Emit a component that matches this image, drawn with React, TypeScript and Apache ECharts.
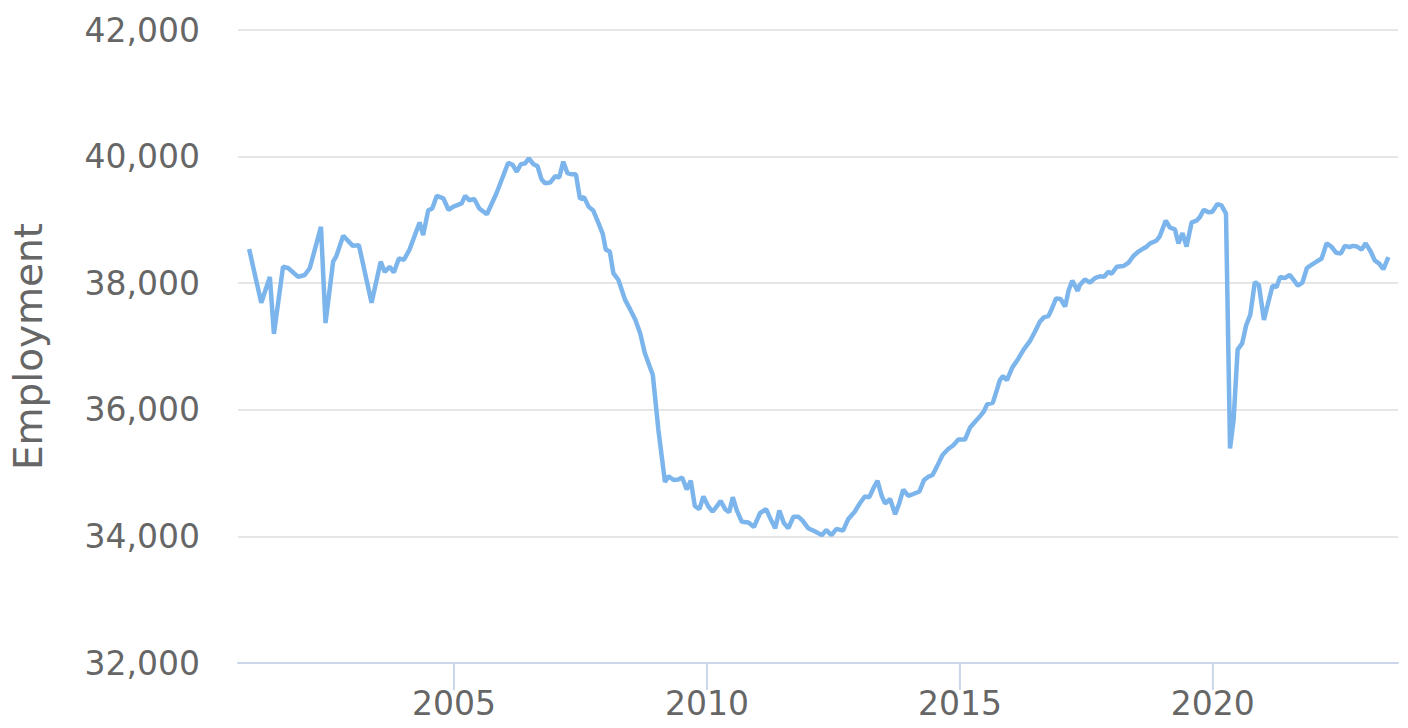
import React, { useEffect, useRef } from "react";
import * as echarts from "echarts";

// decimal year positions
const years: number[] = [
  2000.95, 2001.19, 2001.36, 2001.44, 2001.62, 2001.72, 2001.92, 2002.05, 2002.15, 2002.37,
  2002.46, 2002.61, 2002.67, 2002.81, 2003.0, 2003.12, 2003.37, 2003.55, 2003.63, 2003.73,
  2003.81, 2003.91, 2004.01, 2004.12, 2004.32, 2004.39, 2004.49, 2004.57, 2004.66, 2004.79,
  2004.89, 2004.99, 2005.15, 2005.22, 2005.3, 2005.4, 2005.5, 2005.65, 2005.84, 2006.07,
  2006.16, 2006.24, 2006.32, 2006.4, 2006.48, 2006.57, 2006.65, 2006.73, 2006.8, 2006.9,
  2007.0, 2007.08, 2007.16, 2007.24, 2007.33, 2007.41, 2007.49, 2007.57, 2007.66, 2007.75,
  2007.85, 2007.94, 2008.0, 2008.08, 2008.15, 2008.25, 2008.38, 2008.48, 2008.58, 2008.68,
  2008.77, 2008.87, 2008.93, 2009.04, 2009.17, 2009.24, 2009.34, 2009.43, 2009.51, 2009.6,
  2009.68, 2009.76, 2009.85, 2009.93, 2010.03, 2010.11, 2010.19, 2010.27, 2010.36, 2010.44,
  2010.51, 2010.59, 2010.69, 2010.82, 2010.93, 2011.05, 2011.17, 2011.26, 2011.35, 2011.43,
  2011.52, 2011.61, 2011.71, 2011.81, 2011.89, 2012.0, 2012.13, 2012.27, 2012.36, 2012.46,
  2012.56, 2012.69, 2012.79, 2012.92, 2013.02, 2013.12, 2013.21, 2013.29, 2013.37, 2013.45,
  2013.52, 2013.62, 2013.72, 2013.8, 2013.88, 2013.98, 2014.08, 2014.2, 2014.29, 2014.37,
  2014.46, 2014.55, 2014.66, 2014.77, 2014.87, 2014.97, 2015.1, 2015.2, 2015.3, 2015.4,
  2015.47, 2015.54, 2015.65, 2015.73, 2015.79, 2015.85, 2015.93, 2016.03, 2016.14, 2016.26,
  2016.38, 2016.48, 2016.58, 2016.66, 2016.75, 2016.82, 2016.9, 2016.99, 2017.08, 2017.15,
  2017.22, 2017.33, 2017.37, 2017.47, 2017.57, 2017.67, 2017.77, 2017.85, 2017.93, 2018.0,
  2018.1, 2018.23, 2018.33, 2018.43, 2018.53, 2018.63, 2018.68, 2018.76, 2018.88, 2018.95,
  2019.07, 2019.15, 2019.25, 2019.32, 2019.4, 2019.48, 2019.58, 2019.68, 2019.74, 2019.82,
  2019.91, 2019.99, 2020.09, 2020.17, 2020.26, 2020.34, 2020.41, 2020.49, 2020.58, 2020.66,
  2020.74, 2020.83, 2020.91, 2021.01, 2021.09, 2021.18, 2021.26, 2021.33, 2021.42, 2021.52,
  2021.6, 2021.68, 2021.77, 2021.86, 2021.95, 2022.05, 2022.15, 2022.25, 2022.34, 2022.44,
  2022.53, 2022.61, 2022.7, 2022.77, 2022.85, 2022.94, 2023.02, 2023.12, 2023.2, 2023.29,
  2023.37, 2023.47,
];

const employment: number[] = [
  38540, 37690, 38100, 37200, 38260, 38240, 38100, 38130, 38240, 38890,
  37370, 38340, 38420, 38750, 38590, 38600, 37690, 38340, 38180, 38260,
  38170, 38390, 38370, 38530, 38960, 38760, 39150, 39180, 39380, 39340,
  39160, 39210, 39260, 39380, 39310, 39330, 39180, 39090, 39420, 39900,
  39870, 39760, 39880, 39890, 39970, 39880, 39850, 39640, 39580, 39590,
  39690, 39670, 39920, 39740, 39720, 39720, 39330, 39360, 39210, 39150,
  38960, 38780, 38530, 38500, 38160, 38050, 37740, 37590, 37430, 37210,
  36900, 36680, 36550, 35680, 34860, 34950, 34890, 34900, 34930, 34740,
  34880, 34480, 34430, 34630, 34470, 34390, 34470, 34560, 34430, 34380,
  34620, 34410, 34230, 34220, 34150, 34370, 34430, 34270, 34130, 34410,
  34210, 34130, 34310, 34310, 34250, 34130, 34080, 34020, 34100, 34020,
  34120, 34090, 34270, 34390, 34520, 34630, 34620, 34760, 34880, 34650,
  34520, 34590, 34350, 34520, 34740, 34640, 34670, 34710, 34890, 34940,
  34970, 35110, 35290, 35380, 35440, 35530, 35530, 35720, 35810, 35900,
  35970, 36090, 36110, 36310, 36470, 36530, 36470, 36660, 36790, 36950,
  37080, 37230, 37390, 37460, 37480, 37600, 37760, 37750, 37630, 37890,
  38040, 37880, 37970, 38060, 38010, 38080, 38110, 38100, 38180, 38150,
  38260, 38270, 38320, 38430, 38500, 38550, 38570, 38630, 38670, 38740,
  38990, 38880, 38850, 38630, 38790, 38580, 38960, 38990, 39040, 39160,
  39120, 39130, 39250, 39230, 39100, 35390, 35840, 36950, 37050, 37340,
  37500, 38020, 37970, 37420, 37680, 37960, 37940, 38100, 38080, 38130,
  38050, 37960, 38010, 38240, 38290, 38340, 38390, 38630, 38580, 38480,
  38470, 38590, 38570, 38590, 38580, 38530, 38630, 38500, 38360, 38310,
  38220, 38410,
];

const xTickYears: number[] = [2005, 2010, 2015, 2020];
const yMin = 32000;
const yMax = 42000;
const yAxisName = "Employment";

export default function App() {
  const ref = useRef<HTMLDivElement>(null);
  useEffect(() => {
    if (!ref.current) return;
    const chart = echarts.init(ref.current, undefined, { renderer: "svg" });
    const font = "DejaVu Sans";
    chart.setOption({
      animation: false,
      backgroundColor: "#ffffff",
      grid: { left: 238, right: 10, top: 30, bottom: 65, containLabel: false },
      xAxis: {
        type: "value",
        min: 2000.73,
        max: 2023.66,
        axisLine: { show: true, lineStyle: { color: "#ccd6eb", width: 2 } },
        axisTick: { show: false },
        axisLabel: {
          customValues: xTickYears,
          color: "#666666",
          fontSize: 33,
          fontFamily: font,
          margin: 24,
          formatter: (v: number) => String(Math.round(v)),
        },
        splitLine: { show: false },
      },
      yAxis: {
        type: "value",
        min: yMin,
        max: yMax,
        interval: 2000,
        name: yAxisName,
        nameLocation: "middle",
        nameGap: 190,
        nameTextStyle: { color: "#666666", fontSize: 39, fontFamily: font },
        axisLine: { show: false },
        axisTick: { show: false },
        axisLabel: {
          color: "#666666",
          fontSize: 33,
          fontFamily: font,
          margin: 38,
          formatter: (v: number) => v.toLocaleString("en-US"),
        },
        splitLine: { show: true, lineStyle: { color: "#e6e6e6", width: 2 } },
      },
      series: [
        {
          type: "custom",
          silent: true,
          clip: false,
          data: xTickYears.map((y) => [y, yMin]),
          renderItem: (params: any, api: any) => {
            const p = api.coord([api.value(0), api.value(1)]);
            return {
              type: "line",
              shape: { x1: p[0], y1: p[1], x2: p[0], y2: p[1] + 27 },
              style: { stroke: "#ccd6eb", lineWidth: 2 },
            };
          },
          z: 1,
        },
        {
          type: "line",
          data: years.map((y, i) => [y, employment[i]]),
          showSymbol: false,
          lineStyle: { color: "#7cb5ec", width: 4.5 },
          itemStyle: { color: "#7cb5ec" },
          z: 3,
        },
      ],
    });
    return () => chart.dispose();
  }, []);
  return (
    <div
      ref={ref}
      style={{ position: "fixed", left: 0, top: 0, width: 1408, height: 728 }}
    />
  );
}
